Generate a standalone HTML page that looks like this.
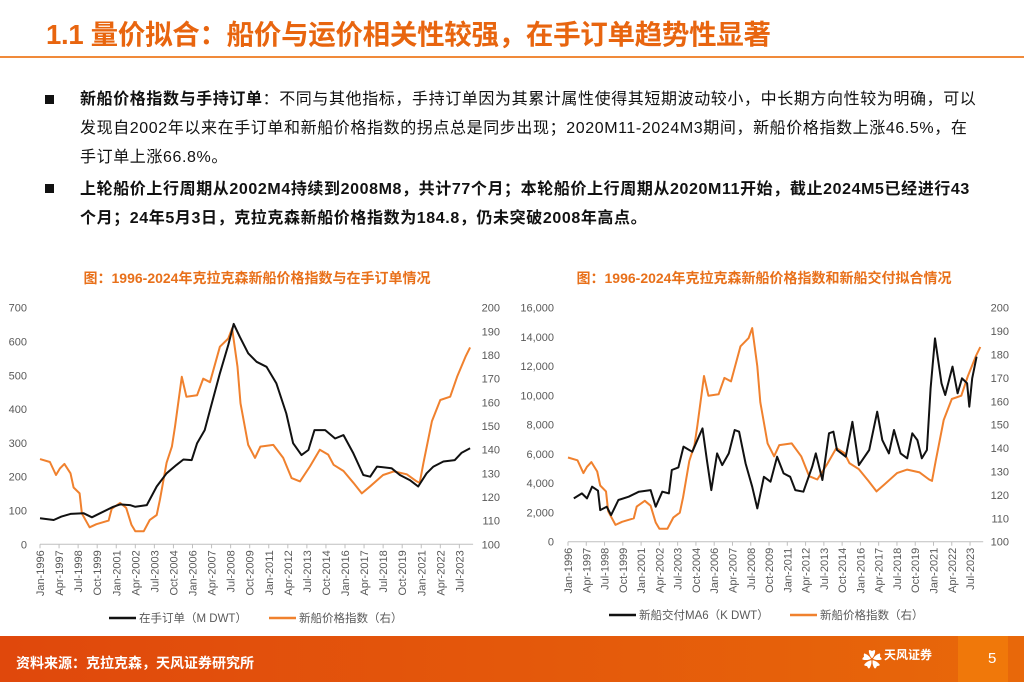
<!DOCTYPE html>
<html><head><meta charset="utf-8">
<style>
body{margin:0;width:1024px;height:682px;overflow:hidden;background:#fff;font-family:"Liberation Sans","Noto Sans CJK SC",sans-serif;position:relative}
.title{position:absolute;left:46px;top:12px;font-size:27.5px;font-weight:bold;color:#E8650F;letter-spacing:-0.3px}
.rule{position:absolute;left:0;top:56px;width:1024px;height:2px;background:#F08A3A}
.p{position:absolute;left:80px;width:900px;font-size:16px;line-height:29px;color:#111;letter-spacing:0.6px}
.bul{position:absolute;left:45px;width:9px;height:9px;background:#111}
.footer{position:absolute;left:0;top:636px;width:1024px;height:46px;background:linear-gradient(90deg,#E0480C,#E8680A)}
.ft{position:absolute;left:16px;top:17px;color:#fff;font-size:14px;font-weight:bold}
</style></head><body>
<div class="title">1.1 量价拟合：船价与运价相关性较强，在手订单趋势性显著</div>
<div class="rule"></div>
<div class="bul" style="top:95px"></div>
<div class="p" style="top:85px"><b>新船价格指数与手持订单</b>：不同与其他指标，手持订单因为其累计属性使得其短期波动较小，中长期方向性较为明确，可以发现自2002年以来在手订单和新船价格指数的拐点总是同步出现；2020M11-2024M3期间，新船价格指数上涨46.5%，在手订单上涨66.8%。</div>
<div class="bul" style="top:184px"></div>
<div class="p" style="top:175px;font-weight:bold">上轮船价上行周期从2002M4持续到2008M8，共计77个月；本轮船价上行周期从2020M11开始，截止2024M5已经进行43个月；24年5月3日，克拉克森新船价格指数为184.8，仍未突破2008年高点。</div>
<svg id="chart" width="1024" height="636" style="position:absolute;left:0;top:0"></svg>
<div class="footer">
<div class="ft">资料来源：克拉克森，天风证券研究所</div>
<div style="position:absolute;left:862px;top:8px;color:#fff;font-size:20px">✿</div>
<div style="position:absolute;left:884px;top:10px;color:#fff;font-size:12px;font-weight:bold">天风证券</div>
<div style="position:absolute;left:958px;top:0;width:50px;height:46px;background:#F0780A"></div>
<div style="position:absolute;left:988px;top:14px;color:#fff;font-size:15px">5</div>
</div>
<script>
const priceYears=[1996.0,1996.65,1997.05,1997.3,1997.6,1998.0,1998.2,1998.6,1998.75,1999.25,1999.7,2000.5,2000.7,2001.25,2001.65,2002.0,2002.25,2002.8,2003.2,2003.65,2003.87,2004.3,2004.65,2004.85,2005.3,2005.6,2006.3,2006.7,2007.15,2007.8,2008.35,2008.6,2008.95,2009.15,2009.65,2010.1,2010.45,2011.3,2011.95,2012.5,2013.05,2013.7,2014.35,2014.9,2015.25,2015.9,2016.55,2017.1,2017.65,2018.5,2019.2,2020.05,2020.7,2020.9,2021.15,2021.7,2022.25,2022.9,2023.35,2023.9,2024.2];
const priceValues=[136,134.8,129.3,132,134,130,124,121.5,113,107.2,108.5,110,115,117.5,115.4,108.2,105.5,105.5,110.3,112.4,119,134.5,141.3,149.7,170.8,162.4,163,170,168.5,183.5,187,191.3,175,159.6,142,136.5,141.3,142,136.5,128,126.6,132.9,140,137.9,133.6,131,126,121.5,124.5,129.3,130.8,129.6,126.6,126,134.5,152,161,162.4,170.8,179.3,183.2];
const orderYears=[1996.0,1996.9,1997.4,1998.0,1998.85,1999.4,1999.95,2000.8,2001.25,2001.9,2002.25,2003.0,2003.65,2004.3,2004.95,2005.4,2005.95,2006.3,2006.8,2007.15,2007.8,2008.35,2008.7,2009.1,2009.65,2010.2,2010.85,2011.5,2012.15,2012.6,2013.15,2013.6,2014.0,2014.7,2015.35,2015.9,2016.55,2017.2,2017.65,2018.1,2019.05,2019.6,2020.25,2020.8,2021.35,2021.8,2022.45,2023.2,2023.65,2024.2];
const orderValues=[77,72,82,90,92,80,92,111,118,116,111,116,171,210,235,251,249,299,338,397,506,590,652,614,565,540,525,476,387,299,264,279,338,338,313,323,269,205,200,230,225,205,190,171,210,230,245,249,271,284];
const delivYears=[1996.4,1996.95,1997.3,1997.65,1998.05,1998.2,1998.65,1998.95,1999.45,2000.15,2000.85,2001.65,2002.0,2002.45,2002.9,2003.1,2003.55,2003.9,2004.5,2004.95,2005.2,2005.5,2005.8,2006.2,2006.55,2007.0,2007.4,2007.7,2008.15,2008.6,2008.95,2009.4,2009.85,2010.3,2010.75,2011.2,2011.55,2012.1,2012.7,2012.95,2013.4,2013.85,2014.15,2014.4,2015.0,2015.45,2015.9,2016.6,2017.15,2017.5,2017.95,2018.3,2018.75,2019.2,2019.55,2019.9,2020.2,2020.55,2020.8,2021.1,2021.55,2021.8,2022.3,2022.65,2022.95,2023.3,2023.45,2023.65,2023.95];
const delivValues=[2960,3300,2960,3760,3490,2160,2390,1820,2850,3080,3420,3530,2390,3420,3300,4900,5080,6500,6150,7180,7750,5580,3530,6040,5240,6040,7640,7520,5350,3760,2280,4440,4100,5810,4670,4440,3530,3420,5130,6040,4220,7410,7520,6270,5810,8200,5240,6270,8890,6950,6040,7640,6040,5700,7410,6950,5700,6270,10490,13900,10830,10030,11970,10150,11170,10830,9230,11170,12650];
const xTickLabels=["Jan-1996","Apr-1997","Jul-1998","Oct-1999","Jan-2001","Apr-2002","Jul-2003","Oct-2004","Jan-2006","Apr-2007","Jul-2008","Oct-2009","Jan-2011","Apr-2012","Jul-2013","Oct-2014","Jan-2016","Apr-2017","Jul-2018","Oct-2019","Jan-2021","Apr-2022","Jul-2023"];
const leftTicks1=[0,100,200,300,400,500,600,700];
const leftTicks2=[0,2000,4000,6000,8000,10000,12000,14000,16000];
const rightTicks=[100,110,120,130,140,150,160,170,180,190,200];

const NS="http://www.w3.org/2000/svg";
const svg=document.getElementById('chart');
function el(tag,attrs,parent){const e=document.createElementNS(NS,tag);for(const k in attrs)e.setAttribute(k,attrs[k]);(parent||svg).appendChild(e);return e;}
function txt(s,attrs,parent){const t=el('text',attrs,parent);t.textContent=s;return t;}
const FONT='"Liberation Sans","Noto Sans CJK SC",sans-serif';

function drawChart(cfg){
  const g=el('g',{});
  
  
  const x=y=>cfg.x0+(y-1996)*cfg.pxYear;
  const yl=v=>cfg.yb-(v-cfg.lmin)/(cfg.lmax-cfg.lmin)*(cfg.yb-cfg.yt);
  const yr=v=>cfg.yb-(v-100)/100*(cfg.yb-cfg.yt);
  const t=txt(cfg.title,{x:cfg.tx,y:283,'text-anchor':'middle','font-size':14,'font-weight':'bold',fill:'#E8701A','font-family':FONT},g);
  
  
  cfg.lticks.forEach(v=>{const l=txt(cfg.fmt(v),{x:cfg.lx,y:yl(v)+4,'text-anchor':'end','font-size':11,fill:'#595959','font-family':FONT},g);
    
    });
  rightTicks.forEach(v=>{const l=txt(String(v),{x:cfg.rx,y:yr(v)+4,'text-anchor':'end','font-size':11,fill:'#595959','font-family':FONT},g);
    
    });
  const ax=el('line',{x1:cfg.x0,x2:x(2024.4),y1:cfg.yb,y2:cfg.yb,stroke:'#BFBFBF','stroke-width':1},g);
  
  
  xTickLabels.forEach((s,i)=>{const xx=x(1996+i*1.25);
    el('line',{x1:xx,x2:xx,y1:cfg.yb,y2:cfg.yb+4,stroke:'#BFBFBF'},g);
    const l=txt(s,{x:0,y:0,'text-anchor':'end','font-size':11,fill:'#595959','font-family':FONT,transform:`translate(${xx+4},${cfg.yb+6}) rotate(-90)`},g);
    
    });
  const pts=(ys,vs,f)=>ys.map((yy,i)=>x(yy).toFixed(1)+','+f(vs[i]).toFixed(1)).join(' ');
  const o=el('polyline',{points:pts(priceYears,priceValues,yr),fill:'none',stroke:'#F0812E','stroke-width':2,'stroke-linejoin':'round'},g);
  
  
  const b=el('polyline',{points:pts(cfg.bYears,cfg.bValues,yl),fill:'none',stroke:'#111','stroke-width':2,'stroke-linejoin':'round'},g);
  
  
  const lg=el('g',{},g);
  
  
  el('line',{x1:cfg.lg1,x2:cfg.lg1+27,y1:cfg.ly,y2:cfg.ly,stroke:'#111','stroke-width':2.5},lg);
  txt(cfg.leg1,{x:cfg.lg1+30,y:cfg.ly+4,'font-size':11.5,fill:'#595959','font-family':FONT},lg);
  el('line',{x1:cfg.lg2,x2:cfg.lg2+27,y1:cfg.ly,y2:cfg.ly,stroke:'#F0812E','stroke-width':2.5},lg);
  txt('新船价格指数（右）',{x:cfg.lg2+30,y:cfg.ly+4,'font-size':11.5,fill:'#595959','font-family':FONT},lg);
}
drawChart({name:'orderbook-chart',title:'图：1996-2024年克拉克森新船价格指数与在手订单情况',tx:257,x0:40,pxYear:15.25,yt:307.7,yb:544.3,lmin:0,lmax:700,
  lticks:leftTicks1,fmt:v=>String(v),lx:27,rx:500,bYears:orderYears,bValues:orderValues,bName:'orderbook-line',
  leg1:'在手订单（M DWT）',lg1:109,lg2:269,ly:618});
drawChart({name:'delivery-chart',title:'图：1996-2024年克拉克森新船价格指数和新船交付拟合情况',tx:764,x0:568,pxYear:14.62,yt:307.7,yb:541.7,lmin:0,lmax:16000,
  lticks:leftTicks2,fmt:v=>v.toLocaleString('en-US'),lx:554,rx:1009,bYears:delivYears,bValues:delivValues,bName:'deliveries-line',
  leg1:'新船交付MA6（K DWT）',lg1:609,lg2:790,ly:615});
</script>
</body></html>
